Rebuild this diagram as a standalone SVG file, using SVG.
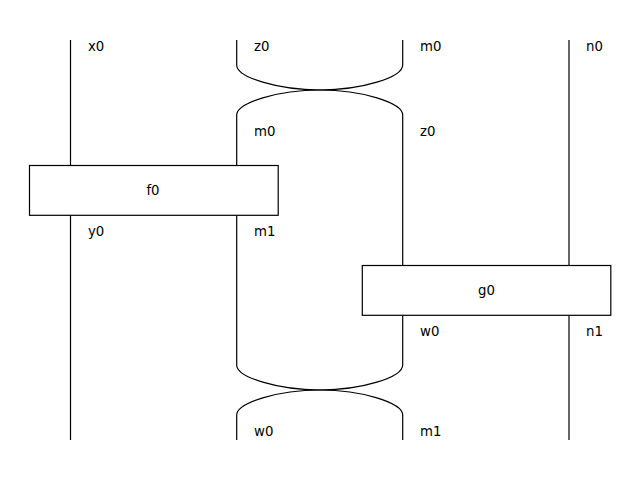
<svg xmlns="http://www.w3.org/2000/svg" width="640" height="480" viewBox="0 0 640 480">
<style>
.w{fill:none;stroke:#000;stroke-width:1.2}
.b{fill:#fff;stroke:#000;stroke-width:1.2}
text{font-family:"DejaVu Sans",sans-serif;font-size:13.3px;fill:#000}
.c{text-anchor:middle}
</style>
<rect width="640" height="480" fill="#fff"/>
<g id="connectors">
<path class="w" d="M70.5,40 V165.5 M70.5,215.5 V440"/>
<path class="w" d="M236.7,40 V65 C236.7,77.5 278.5,90 320,90 C361.5,90 402.7,77.5 402.7,65 V40"/>
<path class="w" d="M236.7,165.5 V115 C236.7,102.5 278.5,90 320,90 C361.5,90 402.7,102.5 402.7,115 V265.5"/>
<path class="w" d="M236.7,215.5 V365 C236.7,377.5 278.5,390 320,390 C361.5,390 402.7,377.5 402.7,365 V315.5"/>
<path class="w" d="M236.7,440 V415 C236.7,402.5 278.5,390 320,390 C361.5,390 402.7,402.5 402.7,415 V440"/>
<path class="w" d="M569,40 V265.5 M569,315.5 V440"/>
</g>
<g id="f0">
<rect class="b" x="29.5" y="165.5" width="248.7" height="49.8"/>
<text class="c" x="153" y="195">f0</text>
</g>
<g id="g0">
<rect class="b" x="362.3" y="265.5" width="248.5" height="49.8"/>
<text class="c" x="486.5" y="295">g0</text>
</g>
<g id="labels">
<text x="88" y="51">x0</text>
<text x="254" y="51">z0</text>
<text x="420" y="51">m0</text>
<text x="586" y="51">n0</text>
<text x="254" y="136">m0</text>
<text x="420" y="136">z0</text>
<text x="88" y="236">y0</text>
<text x="254" y="236">m1</text>
<text x="420" y="336">w0</text>
<text x="586" y="336">n1</text>
<text x="254" y="436">w0</text>
<text x="420" y="436">m1</text>
</g>
</svg>
